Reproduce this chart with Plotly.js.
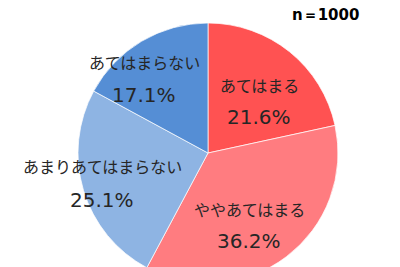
<!DOCTYPE html>
<html>
<head>
<meta charset="utf-8">
<script src="https://cdn.plot.ly/plotly-3.0.1.min.js"></script>
<style>
html,body{margin:0;padding:0;overflow:hidden;background:#fff;width:400px;height:267px;}
#chart{width:400px;height:300px;}
</style>
</head>
<body>
<div id="chart"></div>
<script>
var categories = ["あてはまる", "ややあてはまる", "あまりあてはまらない", "あてはまらない"];
var values = [21.6, 36.2, 25.1, 17.1];
var colors = ["#FF5252", "#FF7C80", "#8EB4E3", "#558ED5"];
var sampleNote = "n＝1000";

// label anchor positions in pixels (layout only)
var labelPos = [
  {x: 259, y: 85, py: 117},
  {x: 249, y: 209, py: 241},
  {x: 102, y: 166, py: 200},
  {x: 144, y: 62, py: 95}
];

var W = 400, H = 300;
var M = {l: 78, r: 62, t: 23, b: 17};
var PW = W - M.l - M.r, PH = H - M.t - M.b;
function px(x){ return (x - M.l) / PW; }
function py(y){ return 1 - (y - M.t) / PH; }

var annotations = [];
categories.forEach(function(c, i){
  annotations.push({
    xref: 'paper', yref: 'paper',
    x: px(labelPos[i].x), y: py(labelPos[i].y),
    text: c, showarrow: false, xanchor: 'center', yanchor: 'middle',
    font: {family: 'Noto Sans CJK JP', size: 16, color: '#262626'}
  });
  annotations.push({
    xref: 'paper', yref: 'paper',
    x: px(labelPos[i].x), y: py(labelPos[i].py),
    text: values[i].toFixed(1) + '%', showarrow: false, xanchor: 'center', yanchor: 'middle',
    font: {family: 'DejaVu Sans', size: 20, color: '#262626'}
  });
});
annotations.push({
  xref: 'paper', yref: 'paper', x: px(325), y: py(15),
  text: '<b>' + sampleNote + '</b>', showarrow: false, xanchor: 'center', yanchor: 'middle',
  font: {family: 'DejaVu Sans', size: 15, color: '#000'}
});

var trace = {
  type: 'pie',
  labels: categories,
  values: values,
  sort: false,
  direction: 'clockwise',
  rotation: 0,
  textinfo: 'none',
  hoverinfo: 'none',
  marker: {colors: colors, line: {color: 'rgba(255,255,255,0.7)', width: 1}},
  showlegend: false
};

var layout = {
  width: W, height: H, autosize: false,
  margin: {l: M.l, r: M.r, t: M.t, b: M.b, pad: 0},
  paper_bgcolor: '#fff',
  showlegend: false,
  annotations: annotations
};

Plotly.newPlot('chart', [trace], layout, {displayModeBar: false, staticPlot: true});
</script>
</body>
</html>
